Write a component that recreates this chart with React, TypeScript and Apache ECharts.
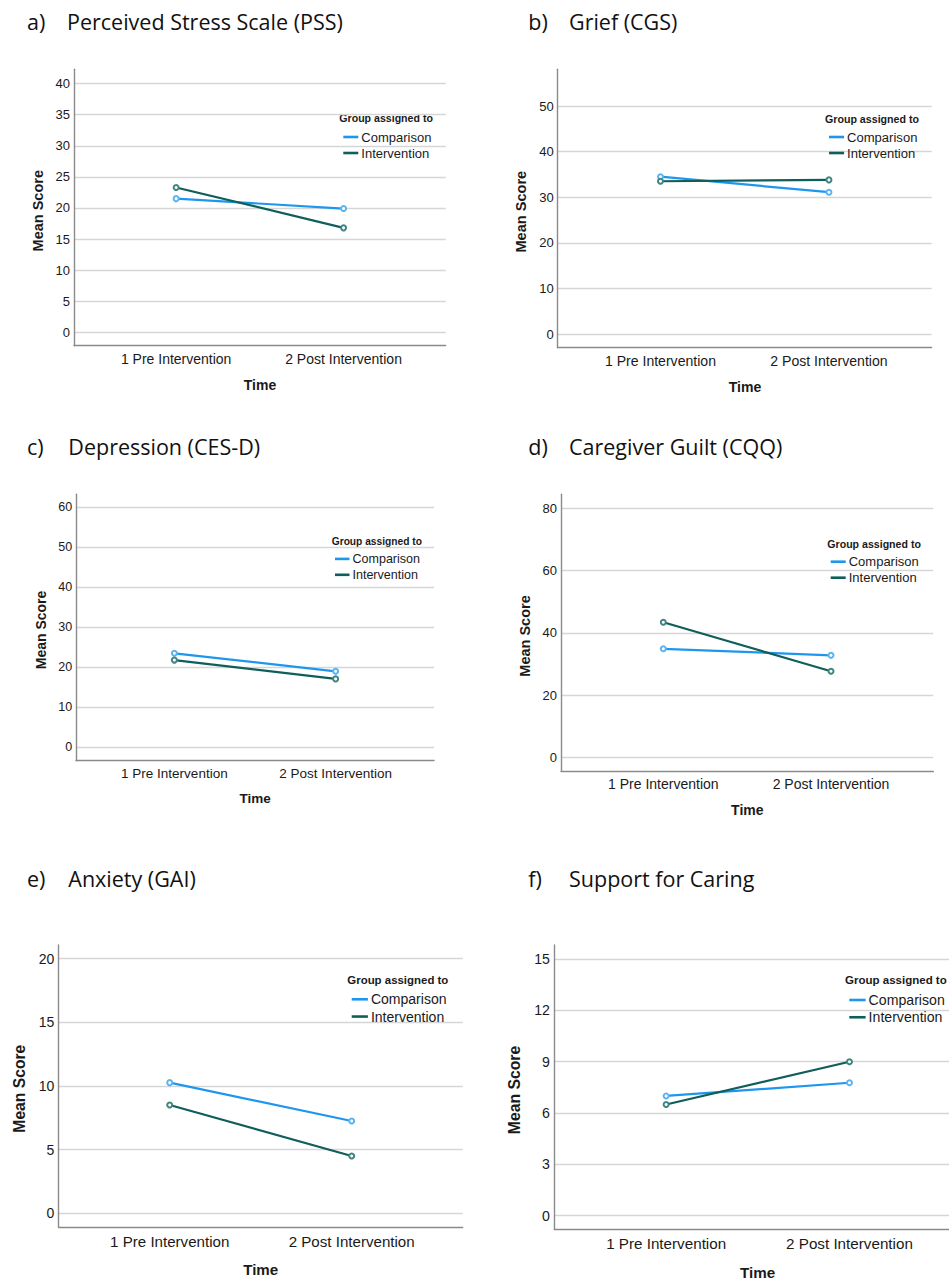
import React, { useEffect, useRef } from 'react';
import * as echarts from 'echarts';

// ---------- data ----------
const timeLabels = ['1 Pre Intervention', '2 Post Intervention'];
const timePoints = [1, 2];
const groupNames = ['Comparison', 'Intervention'];
const panelLetters = ['a)', 'b)', 'c)', 'd)', 'e)', 'f)'];
const panelTitles = [
  'Perceived Stress Scale (PSS)',
  'Grief (CGS)',
  'Depression (CES-D)',
  'Caregiver Guilt (CQQ)',
  'Anxiety (GAI)',
  'Support for Caring',
];

const pssComparison = [21.5, 19.9];
const pssIntervention = [23.3, 16.8];
const cgsComparison = [34.5, 31.1];
const cgsIntervention = [33.5, 33.8];
const cesdComparison = [23.5, 19.0];
const cesdIntervention = [21.8, 17.1];
const cqqComparison = [34.9, 32.8];
const cqqIntervention = [43.4, 27.7];
const gaiComparison = [10.26, 7.25];
const gaiIntervention = [8.5, 4.5];
const supportComparison = [7.0, 7.77];
const supportIntervention = [6.5, 9.0];

const pssTicks = [0, 5, 10, 15, 20, 25, 30, 35, 40];
const cgsTicks = [0, 10, 20, 30, 40, 50];
const cesdTicks = [0, 10, 20, 30, 40, 50, 60];
const cqqTicks = [0, 20, 40, 60, 80];
const gaiTicks = [0, 5, 10, 15, 20];
const supportTicks = [0, 3, 6, 9, 12, 15];

const panelSeries = [
  [pssComparison, pssIntervention],
  [cgsComparison, cgsIntervention],
  [cesdComparison, cesdIntervention],
  [cqqComparison, cqqIntervention],
  [gaiComparison, gaiIntervention],
  [supportComparison, supportIntervention],
];
const panelTicks = [pssTicks, cgsTicks, cesdTicks, cqqTicks, gaiTicks, supportTicks];

// ---------- layout & style ----------
const layouts = [
  { left: 74, top: 69.3, width: 371.7, height: 276.4, yMin: -2.15, yMax: 42.3, s: 1, letterX: 27, titleX: 67, titleY: 21.3, ltX: 339.3, ltY: 118.3, lgLeft: 343.3, lgTop: 130.5, ynX: 37.7, ynY: 210.7, xnX: 260, xnY: 385 },
  { left: 557.7, top: 69.3, width: 374, height: 278.4, yMin: -3.0, yMax: 58.05, s: 1.005, letterX: 528.3, titleX: 569, titleY: 21.5, ltX: 825, ltY: 119, lgLeft: 829, lgTop: 130.5, ynX: 521, ynY: 211.7, xnX: 745, xnY: 387.3 },
  { left: 76, top: 494.3, width: 358, height: 266.4, yMin: -3.35, yMax: 63.25, s: 0.965, letterX: 27, titleX: 68.3, titleY: 446.2, ltX: 331.7, ltY: 541.7, lgLeft: 335, lgTop: 552.4, ynX: 41, ynY: 630, xnX: 255, xnY: 798.3 },
  { left: 561, top: 494.3, width: 372.3, height: 276.7, yMin: -4.26, yMax: 84.4, s: 1, letterX: 528.3, titleX: 569, titleY: 446.2, ltX: 827.3, ltY: 543.7, lgLeft: 830.7, lgTop: 555.2, ynX: 525, ynY: 636, xnX: 747.3, xnY: 810.3 },
  { left: 58.7, top: 945, width: 404, height: 282.3, yMin: -1.1, yMax: 21.07, s: 1.08, letterX: 27, titleX: 68.3, titleY: 878.3, ltX: 347.3, ltY: 980, lgLeft: 351.7, lgTop: 992.3, ynX: 19, ynY: 1088.7, xnX: 260.7, xnY: 1269.3 },
  { left: 554.3, top: 945, width: 407, height: 284.3, yMin: -0.795, yMax: 15.82, s: 1.087, letterX: 528.3, titleX: 569, titleY: 878.3, ltX: 845, ltY: 980.3, lgLeft: 849.3, lgTop: 993, ynX: 514.3, ynY: 1090, xnX: 757.7, xnY: 1272.3 },
];

const X_MIN = 0.39;
const X_MAX = 2.61;
const lineColors = ['#1F96EE', '#0F5E5A'];
const markerColors = ['#5BB4F2', '#3F8580'];
const gridColor = '#d6d6d6';
const axisColor = '#8a8a8a';
const textColor = '#1a1a1a';
const sansFont = '"Liberation Sans", Arial, sans-serif';
const titleFont = '"Open Sans", sans-serif';

function buildOption() {
  const grid: any[] = [];
  const xAxis: any[] = [];
  const yAxis: any[] = [];
  const series: any[] = [];
  const legend: any[] = [];
  const graphic: any[] = [];

  layouts.forEach((L, i) => {
    const s = L.s;
    grid.push({ left: L.left, top: L.top, width: L.width, height: L.height, containLabel: false, outerBoundsMode: 'none' });
    xAxis.push({
      type: 'value',
      gridIndex: i,
      min: X_MIN,
      max: X_MAX,
      axisLine: { show: true, onZero: false, lineStyle: { color: axisColor, width: 1.4 } },
      axisTick: { show: false, customValues: timePoints },
      splitLine: { show: false },
      axisLabel: {
        customValues: timePoints,
        formatter: (v: number) => timeLabels[Math.round(v) - 1] ?? '',
        fontFamily: sansFont,
        fontSize: 14 * s,
        color: textColor,
        margin: 6 * s,
      },
    });
    yAxis.push({
      type: 'value',
      gridIndex: i,
      min: L.yMin,
      max: L.yMax,
      axisLine: { show: true, onZero: false, lineStyle: { color: axisColor, width: 1.4 } },
      axisTick: { show: false, customValues: panelTicks[i] },
      splitLine: { show: true, lineStyle: { color: gridColor, width: 1.3 } },
      axisLabel: {
        customValues: panelTicks[i],
        fontFamily: sansFont,
        fontSize: 13 * s,
        color: textColor,
        margin: 4 * s,
      },
    });
    panelSeries[i].forEach((vals, g) => {
      series.push({
        type: 'line',
        name: groupNames[g],
        xAxisIndex: i,
        yAxisIndex: i,
        data: timePoints.map((t, k) => [t, vals[k]]),
        symbol: 'emptyCircle',
        symbolSize: 5,
        lineStyle: { color: lineColors[g], width: 2.2 },
        itemStyle: { color: markerColors[g], borderWidth: 1 },
        z: 3 + g,
      });
    });
    legend.push({
      orient: 'vertical',
      left: L.lgLeft,
      top: L.lgTop,
      padding: 0,
      itemGap: 3 * s,
      itemWidth: 15 * s,
      itemHeight: 2.6,
      icon: 'rect',
      selectedMode: false,
      data: groupNames.map((n, g) => ({ name: n, itemStyle: { color: lineColors[g], borderWidth: 0 } })),
      textStyle: { fontFamily: sansFont, fontSize: 13 * s, color: textColor, padding: [0, 0, 0, -2] },
    });
    graphic.push(
      {
        type: 'text',
        x: L.letterX,
        y: L.titleY,
        style: { text: panelLetters[i], font: `21.5px ${titleFont}`, fill: '#111', align: 'left', verticalAlign: 'middle' },
      },
      {
        type: 'text',
        x: L.titleX,
        y: L.titleY,
        style: { text: panelTitles[i], font: `21.5px ${titleFont}`, fill: '#111', align: 'left', verticalAlign: 'middle' },
      },
      {
        type: 'text',
        x: L.ltX,
        y: L.ltY,
        style: { text: 'Group assigned to', font: `bold ${10.6 * s}px ${sansFont}`, fill: textColor, align: 'left', verticalAlign: 'middle' },
      },
      {
        type: 'text',
        x: L.ynX,
        y: L.ynY,
        rotation: Math.PI / 2,
        style: { text: 'Mean Score', font: `bold ${14.5 * s}px ${sansFont}`, fill: textColor, align: 'center', verticalAlign: 'middle' },
      },
      {
        type: 'text',
        x: L.xnX,
        y: L.xnY,
        style: { text: 'Time', font: `bold ${14 * s}px ${sansFont}`, fill: textColor, align: 'center', verticalAlign: 'middle' },
      }
    );
  });

  return {
    animation: false,
    backgroundColor: '#ffffff',
    grid,
    xAxis,
    yAxis,
    series,
    legend,
    graphic,
  };
}

export default function App() {
  const ref = useRef<HTMLDivElement>(null);
  useEffect(() => {
    document.body.style.margin = '0';
    if (!ref.current) return;
    const chart = echarts.init(ref.current, undefined, { renderer: 'svg' });
    chart.setOption(buildOption());
    return () => chart.dispose();
  }, []);
  return <div ref={ref} style={{ width: 949, height: 1280 }} />;
}
